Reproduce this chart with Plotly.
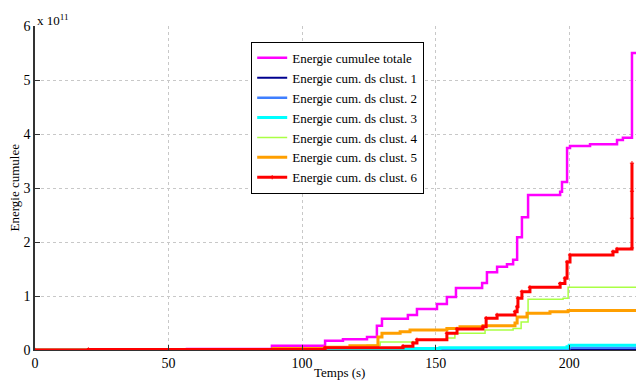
import plotly.graph_objects as go

# Times (s) and cumulative energy (units of 1e11)
t_total = [0, 56.9, 88.7, 108.6, 115.3, 124.3, 128.0, 129.9, 139.6, 143.0, 150.5, 154.2,
           157.6, 167.4, 169.2, 173.0, 176.7, 179.0, 180.5, 182.3, 184.6, 196.6, 197.3,
           199.2, 200.3, 207.8, 217.9, 220.1, 223.5, 228.0]
e_total = [0, 0.02, 0.08, 0.17, 0.20, 0.24, 0.45, 0.58, 0.65, 0.76, 0.85, 0.98,
           1.15, 1.24, 1.44, 1.54, 1.59, 1.67, 2.09, 2.46, 2.87, 2.93, 3.11,
           3.74, 3.78, 3.81, 3.89, 3.93, 5.50, 5.50]

t_c1 = [0, 100, 200.0, 228.0]
e_c1 = [0, 0.005, 0.02, 0.03]

t_c2 = [0, 136.7, 199.2, 200.0, 228.0]
e_c2 = [0, 0.01, 0.02, 0.04, 0.05]

t_c3 = [0, 99.0, 129.0, 151.6, 199.2, 200.0, 228.0]
e_c3 = [0, 0.01, 0.03, 0.04, 0.06, 0.09, 0.10]

t_c4 = [0, 108.6, 124.3, 129.2, 143.0, 154.2, 157.2, 168.5, 179.0, 182.0, 184.6,
        197.7, 199.6, 225.4]
e_c4 = [0, 0.05, 0.09, 0.15, 0.18, 0.22, 0.31, 0.37, 0.40, 0.52, 0.94,
        0.96, 1.16, 1.17]

t_c5 = [0, 89.1, 108.6, 117.9, 128.4, 129.9, 136.7, 140.4, 154.2, 159.1, 167.7,
        179.7, 180.5, 184.2, 192.8, 199.6, 225.0]
e_c5 = [0, 0.03, 0.05, 0.08, 0.24, 0.31, 0.34, 0.37, 0.40, 0.43, 0.45,
        0.50, 0.61, 0.68, 0.71, 0.73, 0.73]

t_c6 = [0, 20, 108.6, 137.8, 141.5, 143.0, 154.2, 158.0, 167.7, 168.9, 173.0, 179.7,
        180.5, 180.8, 182.3, 185.3, 196.6, 198.4, 199.2, 200.3, 216.4, 217.9,
        223.5, 223.5, 223.5, 223.5]
e_c6 = [0, 0.01, 0.04, 0.07, 0.13, 0.19, 0.31, 0.39, 0.43, 0.59, 0.65, 0.71,
        0.80, 0.96, 1.08, 1.16, 1.23, 1.33, 1.63, 1.76, 1.82, 1.87,
        1.89, 2.44, 2.94, 3.46]

x_ticks = [0, 50, 100, 150, 200]
y_ticks = [0, 1, 2, 3, 4, 5, 6]

FONT = "Liberation Serif"

series = [
    ("Energie cumulee totale", t_total, e_total, "#ff00ff", 2.5, "lines"),
    ("Energie cum. ds clust. 1", t_c1, e_c1, "#00008f", 2, "lines"),
    ("Energie cum. ds clust. 2", t_c2, e_c2, "#3f7fff", 2.5, "lines"),
    ("Energie cum. ds clust. 3", t_c3, e_c3, "#00ffff", 3, "lines"),
    ("Energie cum. ds clust. 4", t_c4, e_c4, "#aaff44", 1.5, "lines"),
    ("Energie cum. ds clust. 5", t_c5, e_c5, "#ff9f00", 3, "lines"),
    ("Energie cum. ds clust. 6", t_c6, e_c6, "#ff0000", 3, "lines+markers"),
]

fig = go.Figure()
for name, t, e, col, w, mode in series:
    fig.add_trace(go.Scatter(
        x=t, y=e, name=name, mode=mode, line=dict(color=col, width=w, shape="hv"),
        marker=dict(size=3, color=col, symbol="cross-thin", line=dict(color=col, width=1)),
    ))

# page body has an 8px default margin, so the figure is 8px smaller on each used side
fig.update_layout(
    width=636, height=373,
    margin=dict(l=27, r=0, t=18, b=31, autoexpand=False),
    paper_bgcolor="white", plot_bgcolor="white",
    font=dict(family=FONT, size=13, color="black"),
    showlegend=True,
    legend=dict(
        x=0.355, y=0.951, xanchor="left", yanchor="top",
        bgcolor="white", bordercolor="black", borderwidth=1,
        font=dict(family=FONT, size=13), tracegroupgap=0, itemwidth=30,
    ),
)
fig.update_xaxes(
    range=[0, 228], tickvals=x_ticks, ticktext=[str(v) for v in x_ticks],
    ticks="inside", ticklen=5, tickcolor="#333", showline=True, linecolor="#333", linewidth=1,
    showgrid=True, gridcolor="#c8c8c8", griddash="dot", gridwidth=1, zeroline=False,
    tickfont=dict(family=FONT, size=14),
)
fig.update_yaxes(
    range=[0, 6], tickvals=y_ticks, ticktext=[str(v) for v in y_ticks],
    ticks="inside", ticklen=5, tickcolor="#333", showline=True, linecolor="#333", linewidth=1.5,
    showgrid=True, gridcolor="#c8c8c8", griddash="dot", gridwidth=1, zeroline=False,
    tickfont=dict(family=FONT, size=14),
)
fig.add_annotation(text="x 10<sup>11</sup>", xref="paper", yref="paper", x=0.0, y=1.0,
                   xanchor="left", yanchor="bottom", showarrow=False, yshift=-4,
                   font=dict(family=FONT, size=13))
fig.add_annotation(text="Temps (s)", xref="paper", yref="paper", x=0.5, y=0,
                   xanchor="center", yanchor="top", showarrow=False, yshift=-13,
                   font=dict(family=FONT, size=13))
fig.add_annotation(text="Energie cumulee", xref="paper", yref="paper", x=0, y=0.5,
                   xanchor="right", yanchor="middle", showarrow=False, textangle=-90,
                   xshift=-12, font=dict(family=FONT, size=13))

fig.write_html("out.html")
